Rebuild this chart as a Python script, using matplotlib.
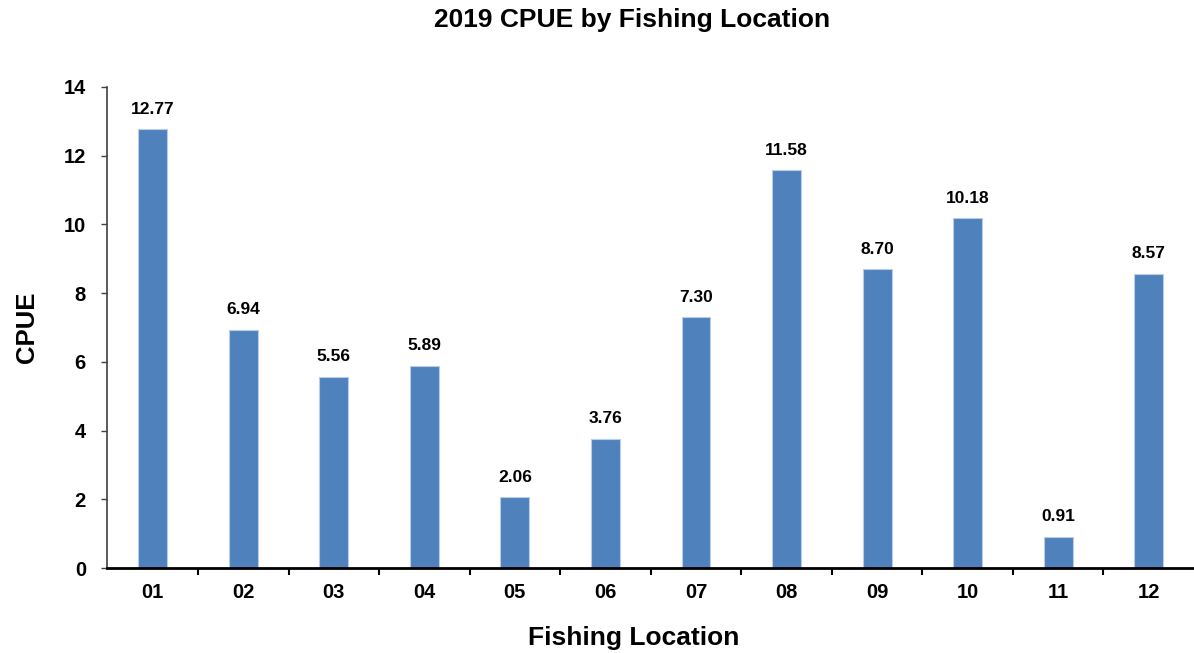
import numpy as np
import matplotlib.pyplot as plt

plt.rcParams['font.family'] = ['Liberation Sans', 'DejaVu Sans']

# CPUE per fishing location, 2019
locations = ["01", "02", "03", "04", "05", "06", "07", "08", "09", "10", "11", "12"]
cpue = [12.77, 6.94, 5.56, 5.89, 2.06, 3.76, 7.30, 11.58, 8.70, 10.18, 0.91, 8.57]
y_ticks = [0, 2, 4, 6, 8, 10, 12, 14]

fig = plt.figure(figsize=(11.94, 6.53), dpi=100)
ax = fig.add_axes([0.0900, 0.130, 0.910, 0.737])

x = np.arange(len(locations))
bars = ax.bar(x, cpue, width=0.32, color="#4F81BD", edgecolor="#B9CDE5", linewidth=0.8, zorder=2)

for xi, v in zip(x, cpue):
    ax.annotate(f"{v:.2f}", (xi, v), xytext=(0, 9), textcoords="offset points",
                ha="center", va="bottom", fontsize=12.5, fontweight="bold")

ax.set_xlim(-0.5, len(locations) - 0.5)
ax.set_ylim(0, 14)
ax.set_yticks(y_ticks)
ax.set_yticklabels([str(t) for t in y_ticks], fontsize=14.5, fontweight="bold")

# category labels centred under bars, tick marks between categories
ax.set_xticks(x)
ax.set_xticklabels(locations, fontsize=14.5, fontweight="bold")
ax.set_xticks(np.arange(0.5, len(locations) - 0.5, 1.0), minor=True)
ax.tick_params(axis="x", which="major", length=0, pad=11)
ax.tick_params(axis="x", which="minor", length=5, width=1.5, direction="out", color="black")
ax.tick_params(axis="y", length=4.5, width=1.0, color="#404040", pad=11)

for s in ["top", "right"]:
    ax.spines[s].set_visible(False)
ax.spines["left"].set_color("#404040")
ax.spines["left"].set_linewidth(1.2)
ax.spines["bottom"].set_color("black")
ax.spines["bottom"].set_linewidth(2.0)

ax.set_ylabel("CPUE", fontsize=18.5, fontweight="bold", labelpad=18)
fig.text(0.531, 0.023, "Fishing Location", ha="center", va="center", fontsize=19, fontweight="bold")
fig.text(0.529, 0.970, "2019 CPUE by Fishing Location", ha="center", va="center", fontsize=19, fontweight="bold")

fig.savefig("out.png", dpi=100)
